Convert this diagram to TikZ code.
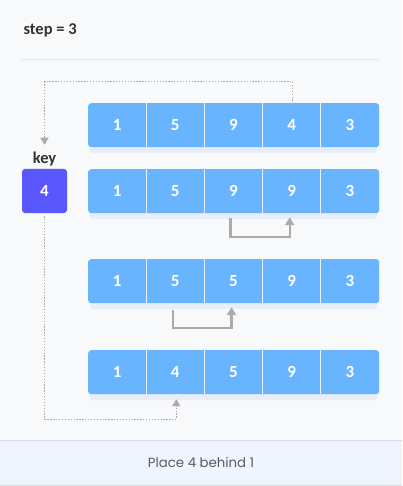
\documentclass[tikz,border=0pt]{standalone}
\usepackage{fontspec}
\setmainfont{Carlito}
\newfontfamily\footfont{Poppins}
\usetikzlibrary{arrows.meta,calc}
\definecolor{bgc}{HTML}{F8F9FB}
\definecolor{cellc}{HTML}{68B4FF}
\definecolor{keyc}{HTML}{5A57FF}
\definecolor{rulec}{HTML}{E2E4E8}
\definecolor{footc}{HTML}{EFF4FD}
\definecolor{footline}{HTML}{D5DEEA}
\definecolor{arrc}{HTML}{ABABAB}
\definecolor{txtc}{HTML}{333333}
\definecolor{foottxt}{HTML}{555A6E}
\definecolor{shadc}{HTML}{E8EEF7}
\tikzset{
  rowbox/.style={fill=cellc, rounded corners=3pt, minimum width=291pt, minimum height=44pt, inner sep=0pt, anchor=north west},
  cellnum/.style={text=white, font=\bfseries\fontsize{17}{19}\selectfont, minimum width=58.2pt, minimum height=44pt, inner sep=0pt},
  divider/.style={draw=white!85!cellc, line width=1.2pt},
  dotarrow/.style={draw=arrc, line width=1.3pt, dash pattern=on 1.3pt off 1.6pt, -{Triangle[length=7pt,width=8pt]}},
  movearrow/.style={draw=arrc, line width=2.2pt, -{Triangle[length=8pt,width=9pt]}},
}
\begin{document}
\begin{tikzpicture}[x=1pt,y=-1pt]
\useasboundingbox (0,0) rectangle (402,486);
\fill[bgc] (0,0) rectangle (402,486);
\node[anchor=west, text=txtc, font=\bfseries\fontsize{16.5}{18}\selectfont] (title) at (20,30) {step = 3};
\draw[rulec, line width=1pt] (22,60) -- (379,60);
% rows
\foreach \r/\y/\a/\b/\c/\d/\e in {1/103/1/5/9/4/3, 2/169/1/5/9/9/3, 3/259/1/5/5/9/3, 4/350/1/4/5/9/3}{
  \fill[shadc, rounded corners=3pt] (90,\y+6) rectangle (377,\y+50);
  \node[rowbox] (row\r) at (88,\y) {};
  \foreach \i/\v in {1/\a,2/\b,3/\c,4/\d,5/\e}{
    \node[cellnum] (r\r c\i) at (88+58.2*\i-29.1,\y+22) {\v};
  }
  \foreach \i in {1,2,3,4}{
    \draw[divider] (88+58.2*\i,\y) -- (88+58.2*\i,\y+44);
  }
}
% key
\node[text=txtc, font=\bfseries\fontsize{16.5}{18}\selectfont, inner sep=0pt] (keylabel) at (44.5,159) {key};
\node[fill=keyc, rounded corners=3pt, minimum width=45pt, minimum height=44pt, inner sep=0pt, text=white, font=\bfseries\fontsize{17}{19}\selectfont] (key) at (44.5,191) {4};
% dotted connectors
\draw[dotarrow] ($(r1c4.north)+(1,-2)$) -- ++(0,-19) -| ($(keylabel.north)+(0,-7)$);
\draw[dotarrow] ($(key.south)+(0,3)$) -- ++(0,203) -| ($(r4c2.south)+(1,5)$);
% move arrows
\draw[movearrow] ($(r2c3.south)+(-3,5)$) -- ++(0,19) -| ($(r2c4.south)+(-2,4)$);
\draw[movearrow] ($(r3c2.south)+(-2,7)$) -- ++(0,18) -| ($(r3c3.south)+(-2,4)$);
% footer
\fill[footc] (0,440) rectangle (402,486);
\draw[footline, line width=1pt] (0,440) -- (402,440);
\draw[footline, line width=1pt] (0,485.5) -- (402,485.5);
\node[text=foottxt, font=\footfont\fontsize{13.3}{15}\selectfont] (foot) at (201,462) {Place 4 behind 1};
\end{tikzpicture}
\end{document}
